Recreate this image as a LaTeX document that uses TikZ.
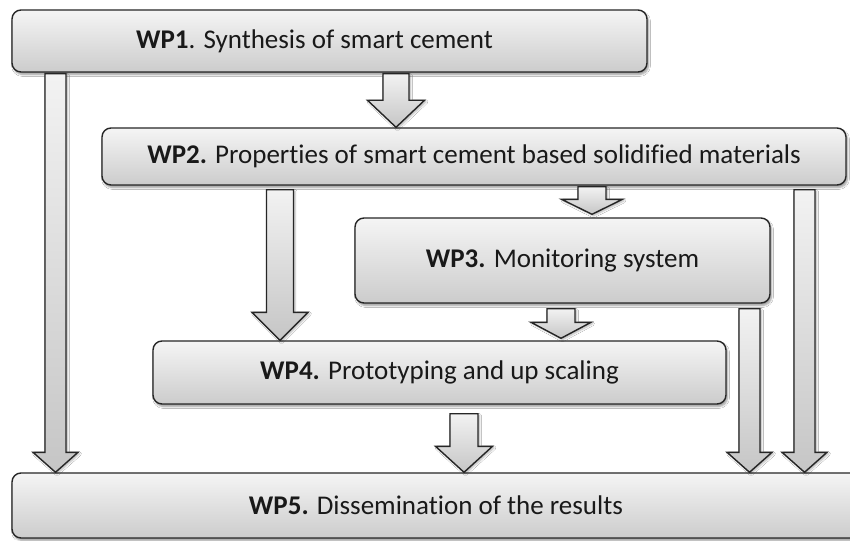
\documentclass[tikz,border=0pt]{standalone}
\usepackage{fontspec}
\setmainfont{Carlito}[Ligatures=NoCommon]
\usetikzlibrary{calc,shadows.blur}
\tikzset{
  wpbox/.style={draw=black!85, line width=1.4pt, rounded corners=9pt,
    top color=gray!8, bottom color=gray!40,
    blur shadow={shadow xshift=1.5pt, shadow yshift=-2.5pt, shadow blur steps=6, shadow opacity=40},
    inner sep=0pt, font=\fontsize{27}{31}\selectfont, text=black!90},
  blockarr/.style={draw=black!85, line width=1.4pt, line join=miter,
    top color=gray!10, bottom color=gray!45,
    blur shadow={shadow xshift=1.5pt, shadow yshift=-1.5pt, shadow blur steps=5, shadow opacity=30}}
}
% #1 start point, #2 tip point, #3 shaft half width, #4 head half width, #5 head length
\newcommand{\blockarrow}[5]{%
  \path[blockarr] let \p1=(#1), \p2=(#2) in
   (\x2-#3pt,\y1) -- (\x2+#3pt,\y1) -- (\x2+#3pt,\y2+#5pt) -- (\x2+#4pt,\y2+#5pt)
   -- (\x2,\y2) -- (\x2-#4pt,\y2+#5pt) -- (\x2-#3pt,\y2+#5pt) -- cycle;}
\begin{document}
\begin{tikzpicture}[x=1pt,y=-1pt]
\clip (0,0) rectangle (850,540);
\fill[white] (0,0) rectangle (850,540);
% boxes
\node[wpbox, minimum width=635pt, minimum height=62pt] (wp1) at (329.5,41) {\hspace*{-30pt}\textbf{WP1}. Synthesis of smart cement};
\node[wpbox, minimum width=744pt, minimum height=57pt] (wp2) at (474,156.5) {\textbf{WP2.} Properties of smart cement based solidified materials};
\node[wpbox, minimum width=415pt, minimum height=85pt] (wp3) at (562.5,260.5) {\textbf{WP3.} Monitoring system};
\node[wpbox, minimum width=573pt, minimum height=63pt] (wp4) at (439.5,372.5) {\textbf{WP4.} Prototyping and up scaling};
\node[wpbox, minimum width=848pt, minimum height=65pt] (wp5) at (436,505.5) {\textbf{WP5.} Dissemination of the results};
% block arrows
\blockarrow{$(55.5,0 |- wp1.south)+(0,1)$}{55.5,0 |- wp5.north}{10.5}{22.5}{20}
\blockarrow{$(396,0 |- wp1.south)+(0,1)$}{396,0 |- wp2.north}{13}{28.5}{27}
\blockarrow{$(592,0 |- wp2.south)+(0,1)$}{$(592,0 |- wp3.north)+(0,-3)$}{14}{30.5}{15}
\blockarrow{$(280,0 |- wp2.south)+(0,4)$}{280,0 |- wp4.north}{13.5}{28}{28}
\blockarrow{$(561,0 |- wp3.south)+(0,5)$}{$(561,0 |- wp4.north)+(0,-2)$}{14}{30}{16}
\blockarrow{$(464,0 |- wp4.south)+(0,9)$}{464,0 |- wp5.north}{14}{28.5}{26}
\blockarrow{$(749.5,0 |- wp3.south)+(0,5)$}{749.5,0 |- wp5.north}{10.5}{22.5}{20}
\blockarrow{$(804.5,0 |- wp2.south)+(0,4)$}{804.5,0 |- wp5.north}{10.5}{22.5}{20}
\end{tikzpicture}
\end{document}
